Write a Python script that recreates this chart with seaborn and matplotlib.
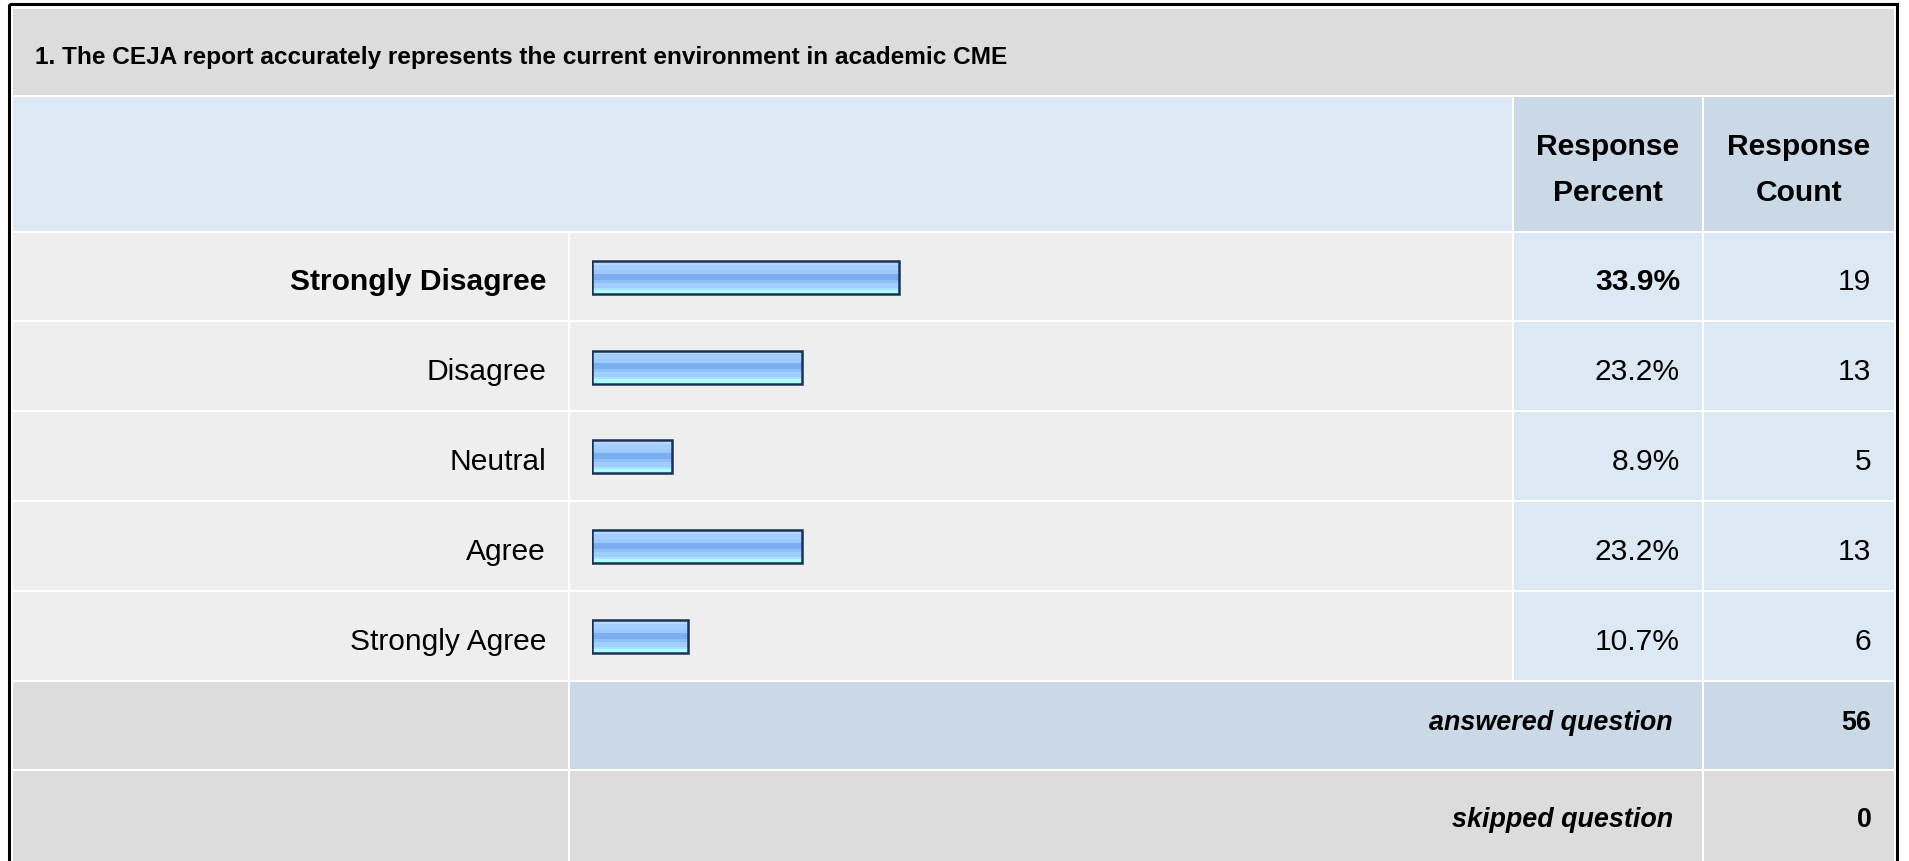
import matplotlib
matplotlib.use('Agg')
import matplotlib.pyplot as plt
from matplotlib.colors import to_rgb
from matplotlib.patches import Rectangle
import numpy as np
import pandas as pd
import seaborn as sns

title = '1. The CEJA report accurately represents the current environment in academic CME'
answers = ['Strongly Disagree', 'Disagree', 'Neutral', 'Agree', 'Strongly Agree']
percent = [33.9, 23.2, 8.9, 23.2, 10.7]
count = [19, 13, 5, 13, 6]
header = ['Response\nPercent', 'Response\nCount']
answered = 56
skipped = 0

W, H = 1909, 862
sns.set_style('white')
plt.rcParams['font.family'] = ['Liberation Sans', 'DejaVu Sans']
plt.rcParams['text.color'] = 'black'

fig = plt.figure(figsize=(W / 100, H / 100), dpi=100)
ax = fig.add_axes([0, 0, 1, 1])
ax.set_xlim(0, W)
ax.set_ylim(H, 0)
ax.axis('off')

GREY, LIGHT, BLUE, STEEL = '#dcdcdc', '#eeeeee', '#dde8f5', '#cbd8e6'

# table grid in pixels, white gaps sit on these lines
xs = [11.5, 568.5, 1512.5, 1703.0, 1895.0]
pitch = 89.8
ys = [8.5, 97.0, 232.5] + [232.5 + pitch * (i + 1) for i in range(5)] + [771.0, 866.0]


def cell(c0, c1, r, color):
    x0, x1 = xs[c0] + 1, xs[c1] - 1
    y0, y1 = ys[r] + 1, ys[r + 1] - 1
    ax.add_patch(Rectangle((x0, y0), x1 - x0, y1 - y0, fc=color, ec='none', zorder=0))


cell(0, 4, 0, GREY)
cell(0, 2, 1, BLUE)
cell(2, 3, 1, STEEL)
cell(3, 4, 1, STEEL)
for r in range(2, 7):
    cell(0, 1, r, LIGHT)
    cell(1, 2, r, LIGHT)
    cell(2, 3, r, BLUE)
    cell(3, 4, r, BLUE)
cell(0, 1, 7, GREY)
cell(1, 3, 7, STEEL)
cell(3, 4, 7, STEEL)
cell(0, 1, 8, GREY)
cell(1, 3, 8, GREY)
cell(3, 4, 8, GREY)

ax.add_patch(Rectangle((9.4, 5.4), 1897.4 - 9.4, 900, fill=False, ec='black', lw=2.2, zorder=5))

# texts
ax.text(35, 64, title, fontsize=17.6, fontweight='bold', va='baseline')
for j, h in enumerate(header):
    cx = (xs[2 + j] + xs[3 + j]) / 2
    top, bottom = h.split('\n')
    ax.text(cx, 155, top, ha='center', va='baseline', fontsize=21.6, fontweight='bold')
    ax.text(cx, 201, bottom, ha='center', va='baseline', fontsize=21.6, fontweight='bold')

top_val = max(percent)
for i, (a, p, c) in enumerate(zip(answers, percent, count)):
    b = 290.5 + pitch * i
    w = 'bold' if p == top_val else 'normal'
    ax.text(546, b, a, ha='right', va='baseline', fontsize=21.6, fontweight=w)
    ax.text(1680, b, f'{p:.1f}%', ha='right', va='baseline', fontsize=21.6, fontweight=w)
    ax.text(1871.5, b, str(c), ha='right', va='baseline', fontsize=21.6)

ax.text(1673, 730, 'answered question', ha='right', va='baseline', fontsize=19.4,
        fontweight='bold', style='italic')
ax.text(1871.5, 730, str(answered), ha='right', va='baseline', fontsize=19.4, fontweight='bold')
ax.text(1673, 826.7, 'skipped question', ha='right', va='baseline', fontsize=19.4,
        fontweight='bold', style='italic')
ax.text(1871.5, 826.7, str(skipped), ha='right', va='baseline', fontsize=19.4, fontweight='bold')

# bars
x0px, kpx = 591.5, 9.06
bar_top = 278.2 - pitch / 2
bar_h = 5 * pitch
bx = fig.add_axes([x0px / W, 1 - (bar_top + bar_h) / H, 100 * kpx / W, bar_h / H])
df = pd.DataFrame({'answer': answers, 'percent': percent})
sns.barplot(data=df, x='percent', y='answer', orient='h', ax=bx, width=33 / pitch,
            color='#9fcdff', edgecolor='#1b3152', linewidth=1.8, saturation=1)

stripes = (['#cde5ff'] * 2 + ['#b5d8ff'] * 2 + ['#a3ceff'] * 4 + ['#9acafe'] * 4 +
           ['#7aaef0'] * 6 + ['#8ec0f9'] * 3 + ['#a0cfff'] * 4 + ['#a8e2ff'] * 2 +
           ['#aefdff'] * 4)
grad = np.array([to_rgb(s) for s in stripes])[:, None, :]
for patch in list(bx.patches):
    x, y, w, h = patch.get_x(), patch.get_y(), patch.get_width(), patch.get_height()
    im = bx.imshow(grad, extent=(x, x + w, y + h, y), aspect='auto',
                   interpolation='nearest', zorder=0.5)
    im.set_clip_path(patch)
    patch.set_facecolor('none')
    patch.set_zorder(2)

bx.set_xlim(0, 100)
bx.set_ylim(4.5, -0.5)
bx.axis('off')
bx.patch.set_alpha(0)

fig.savefig('out.png', dpi=100)
